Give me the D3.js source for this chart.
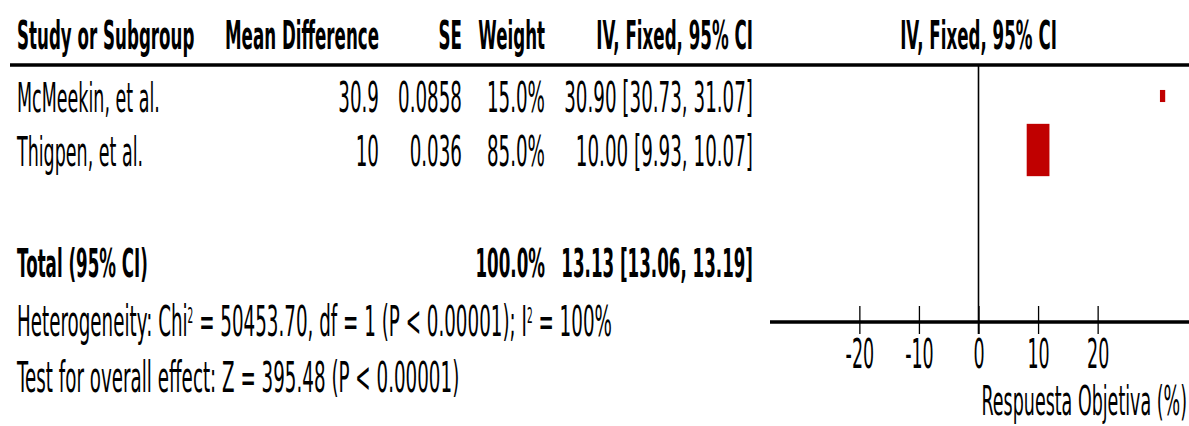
<!DOCTYPE html>
<html>
<head>
<meta charset="utf-8">
<script src="https://cdn.jsdelivr.net/npm/d3@7"></script>
<style>
  body { margin: 0; background: #fff; }
  text { font-family: "DejaVu Sans", Verdana, sans-serif; fill: #000; }
  .bold { font-weight: bold; }
</style>
</head>
<body>
<script>

// Study data
var studies = ["McMeekin, et al.", "Thigpen, et al."];
var meanDiff = [30.9, 10];
var se = ["0.0858", "0.036"];
var weights = [15.0, 85.0];
var ciLow = [30.73, 9.93];
var ciHigh = [31.07, 10.07];

// Pooled result
var totalWeight = 100.0;
var totalMD = 13.13,
    totalLow = 13.06,
    totalHigh = 13.19;

// Heterogeneity / overall effect
var chi2 = "50453.70", hetDf = 1, hetP = "P < 0.00001", i2 = "100%";
var zValue = "395.48", zP = "P < 0.00001";

// Axis
var xTicks = [-20, -10, 0, 10, 20];
var headers = ["Study or Subgroup", "Mean Difference", "SE", "Weight", "IV, Fixed, 95% CI"];
var plotHeader = "IV, Fixed, 95% CI";
var axisTitle = "Respuesta Objetiva (%)";

setChart();
function setChart(){

  var width = 1189,
      height = 426,
      k = 2.3;            // the picture is stretched vertically

  // pixel y -> unscaled y
  function py(v){ return v / k; }

  var svg = d3.select("body")
      .append("svg")
      .attr("width", width)
      .attr("height", height);

  var g = svg.append("g")
      .attr("transform", "scale(1," + k + ")");

  var fmt2 = d3.format(".2f"),
      fmt1 = d3.format(".1f");

  // scales
  var x = d3.scaleLinear()
      .domain([-35, 35])
      .range([770, 1187]);

  var rowY = d3.scaleLinear()
      .domain([0, 1])
      .range([112, 166]);

  var boxSize = d3.scaleLinear()
      .domain([0, 100])
      .range([1.5, 26.5]);

  // column right edges
  var colX = [17, 379, 462, 545, 753];

  // header
  g.selectAll(".hdr")
      .data(headers)
      .enter()
      .append("text")
      .attr("class", "hdr bold")
      .attr("x", function(d, i){ return colX[i]; })
      .attr("y", py(49))
      .attr("text-anchor", function(d, i){ return i == 0 ? "start" : "end"; })
      .style("font-size", "16.7px")
      .text(function(d){ return d; });

  g.append("text")
      .attr("class", "bold")
      .attr("x", x(0))
      .attr("y", py(49))
      .attr("text-anchor", "middle")
      .style("font-size", "16.7px")
      .text(plotHeader);

  g.append("line")
      .attr("x1", 10).attr("x2", width)
      .attr("y1", py(65)).attr("y2", py(65))
      .attr("stroke", "#000")
      .attr("stroke-width", 1.5);

  // study rows
  var rows = studies.map(function(s, i){
    return {
      name: s,
      md: String(meanDiff[i]),
      se: se[i],
      w: fmt1(weights[i]) + "%",
      ci: fmt2(meanDiff[i]) + " [" + fmt2(ciLow[i]) + ", " + fmt2(ciHigh[i]) + "]"
    };
  });

  var rowG = g.selectAll(".row")
      .data(rows)
      .enter()
      .append("g")
      .attr("class", "row");

  ["name", "md", "se", "w", "ci"].forEach(function(key, c){
    rowG.append("text")
        .attr("x", colX[c])
        .attr("y", function(d, i){ return py(rowY(i)); })
        .attr("text-anchor", c == 0 ? "start" : "end")
        .style("font-size", c == 0 ? "17.5px" : "18.3px")
        .text(function(d){ return d[key]; });
  });

  // total row
  var totY = py(rowY(3.05));
  g.append("text").attr("class", "bold")
      .attr("x", colX[0]).attr("y", totY)
      .style("font-size", "16.7px")
      .text("Total (95% CI)");
  g.append("text").attr("class", "bold")
      .attr("x", colX[3]).attr("y", totY)
      .attr("text-anchor", "end")
      .style("font-size", "16.7px")
      .text(fmt1(totalWeight) + "%");
  g.append("text").attr("class", "bold")
      .attr("x", colX[4]).attr("y", totY)
      .attr("text-anchor", "end")
      .style("font-size", "16.7px")
      .text(fmt2(totalMD) + " [" + fmt2(totalLow) + ", " + fmt2(totalHigh) + "]");

  // footer
  var het = g.append("text")
      .attr("x", colX[0]).attr("y", py(336))
      .style("font-size", "18.3px");
  het.append("tspan").text("Heterogeneity: Chi");
  het.append("tspan").attr("dy", -5.5).style("font-size", "9px").text("2");
  het.append("tspan").attr("dy", 5.5).text(" = " + chi2 + ", df = " + hetDf + " (" + hetP + "); I");
  het.append("tspan").attr("dy", -5.5).style("font-size", "9px").text("2");
  het.append("tspan").attr("dy", 5.5).text(" = " + i2);

  g.append("text")
      .attr("x", colX[0]).attr("y", py(392))
      .style("font-size", "18.3px")
      .text("Test for overall effect: Z = " + zValue + " (" + zP + ")");

  // forest plot: zero line
  g.append("line")
      .attr("x1", x(0)).attr("x2", x(0))
      .attr("y1", py(65)).attr("y2", py(334))
      .attr("stroke", "#000")
      .attr("stroke-width", 1.6);

  // CI whiskers
  g.selectAll(".ci")
      .data(meanDiff)
      .enter()
      .append("line")
      .attr("class", "ci")
      .attr("x1", function(d, i){ return x(ciLow[i]); })
      .attr("x2", function(d, i){ return x(ciHigh[i]); })
      .attr("y1", function(d, i){ return py(rowY(i) - 16); })
      .attr("y2", function(d, i){ return py(rowY(i) - 16); })
      .attr("stroke", "#000")
      .attr("stroke-width", 0.6);

  // weight boxes
  g.selectAll(".box")
      .data(meanDiff)
      .enter()
      .append("rect")
      .attr("class", "box")
      .attr("x", function(d, i){ return x(d) - boxSize(weights[i]) / 2; })
      .attr("y", function(d, i){ return py(rowY(i) - 16) - boxSize(weights[i]) / 2; })
      .attr("width", function(d, i){ return boxSize(weights[i]); })
      .attr("height", function(d, i){ return boxSize(weights[i]); })
      .attr("fill", "#c00000");

  // axis
  var axisG = g.append("g")
      .attr("transform", "translate(0," + py(322) + ")")
      .call(d3.axisBottom(x)
        .tickValues(xTicks)
        .tickSizeOuter(0)
        .tickSizeInner(py(12))
        .tickFormat(d3.format("d")));

  axisG.select(".domain")
      .attr("d", "M770,0H" + width)
      .attr("stroke-width", 1.5);
  axisG.selectAll(".tick line")
      .attr("y1", -py(16))
      .attr("stroke-width", 1.3);
  axisG.selectAll(".tick text")
      .attr("y", py(46))
      .attr("dy", null)
      .style("font-family", "'DejaVu Sans', Verdana, sans-serif")
      .style("font-size", "17.5px")
      .attr("fill", "#000")
      .text(function(d){ return d < 0 ? "-" + Math.abs(d) : d; });

  g.append("text")
      .attr("x", 1187)
      .attr("y", py(415))
      .attr("text-anchor", "end")
      .style("font-size", "17.5px")
      .text(axisTitle);
}
</script>
</body>
</html>
